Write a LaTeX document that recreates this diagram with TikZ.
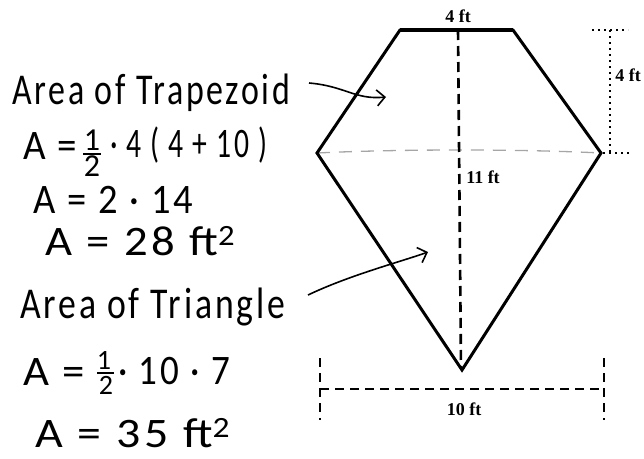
\documentclass[tikz,border=0pt]{standalone}
\usepackage{fontspec}
\usepackage{graphicx}
\setmainfont{Carlito}
\newfontfamily\hand[LetterSpace=8]{Carlito}
\newfontfamily\dimfont{Liberation Serif}
\usetikzlibrary{arrows.meta}
\newsavebox\hwbox
\newcommand\hwfit[2]{\sbox\hwbox{#2}\scalebox{\fpeval{#1/(\the\wd\hwbox)}}[1]{\usebox\hwbox}}
\begin{document}
\begin{tikzpicture}[x=1pt,y=-1pt,
  outline/.style={line width=3pt, line join=miter, line cap=round},
  heightline/.style={line width=2.6pt, dash pattern=on 10pt off 6pt},
  dimdash/.style={line width=2.4pt, dash pattern=on 9pt off 6pt},
  dimdot/.style={line width=2pt, dash pattern=on 2pt off 4pt},
  handdash/.style={gray!70, line width=1.3pt, dash pattern=on 13pt off 9pt},
  dimlabel/.style={font=\dimfont\bfseries\fontsize{18}{18}\selectfont, inner sep=1pt},
  hw/.style={anchor=base west, inner sep=0pt, font=\hand\fontsize{42}{42}\selectfont},
  hwtitle/.style={anchor=base west, inner sep=0pt, font=\hand\fontsize{44}{44}\selectfont},
  fracbig/.style={anchor=base, inner sep=0pt, font=\hand\fontsize{32}{32}\selectfont},
  fracsmall/.style={anchor=base, inner sep=0pt, font=\hand\fontsize{28}{28}\selectfont},
  fracbar/.style={line width=2pt},
  handarrow/.style={line width=1.6pt, -{Straight Barb[length=8pt,width=16pt,line width=1.6pt]}}
]
\useasboundingbox (0,0) rectangle (644,458);
% kite vertices
\coordinate (tl) at (400,30);
\coordinate (tr) at (513,30);
\coordinate (rv) at (601,153);
\coordinate (bv) at (462,370);
\coordinate (lv) at (317,153);
\coordinate (htop) at (458,30);
\coordinate (hbot) at (461,368);
% hand-drawn dashed diagonal
\draw[handdash] (lv) .. controls (400,149) and (520,149) .. (rv);
% outline
\draw[outline] (lv) -- (tl) -- (tr) -- (rv) -- (bv) -- cycle;
\draw[line width=4.5pt] (tl) -- (tr);
% height line
\draw[heightline] (htop) -- (hbot);
% right dimension (4 ft)
\coordinate (rt1) at (592,30);
\coordinate (rt2) at (628,30);
\coordinate (rb1) at (603,153);
\coordinate (rb2) at (632,153);
\coordinate (rvt) at (610,30);
\coordinate (rvb) at (610,153);
\draw[dimdot] (rt1) -- (rt2);
\draw[dimdot] (rb1) -- (rb2);
\draw[dimdot] (rvt) -- (rvb);
% bottom dimension (10 ft)
\coordinate (bl1) at (320,358);
\coordinate (bl2) at (320,420);
\coordinate (br1) at (604,358);
\coordinate (br2) at (604,420);
\coordinate (bh1) at (320,389);
\coordinate (bh2) at (604,389);
\draw[dimdash] (bl1) -- (bl2);
\draw[dimdash] (br1) -- (br2);
\draw[dimdash] (bh1) -- (bh2);
% labels
\node[dimlabel] (ltop) at (458,16) {4 ft};
\node[dimlabel] (lright) at (628,75) {4 ft};
\node[dimlabel] (lmid) at (483,177) {11 ft};
\node[dimlabel] (lbot) at (464,409) {10 ft};
% handwriting: trapezoid
\node[hwtitle] (t1) at (12,104) {\hwfit{278}{Area of Trapezoid}};
\node[hw] (e1a) at (23,159) {\hwfit{54}{A =}};
\node[fracbig] (e1n) at (92,150) {1};
\coordinate (e1bl) at (83,154);
\coordinate (e1br) at (101,154);
\draw[fracbar] (e1bl) -- (e1br);
\node[fracbig] (e1d) at (92,176) {2};
\node[hw] (e1b) at (110,157) {\hwfit{157}{· 4 ( 4 + 10 )}};
\node[hw] (e2) at (33,213) {\hwfit{160}{A = 2 · 14}};
\node[hw] (e3) at (45,255) {\hwfit{190}{A = 28 ft\textsuperscript{2}}};
% handwriting: triangle
\node[hwtitle] (t2) at (20,318) {\hwfit{265}{Area of Triangle}};
\node[hw] (e4a) at (23,385) {\hwfit{62}{A =}};
\node[fracsmall] (e4n) at (104,369) {1};
\coordinate (e4bl) at (97,373);
\coordinate (e4br) at (114,373);
\draw[fracbar] (e4bl) -- (e4br);
\node[fracsmall] (e4d) at (106,394) {2};
\node[hw] (e4b) at (118,384) {\hwfit{112}{· 10 · 7}};
\node[hw] (e5) at (35,447) {\hwfit{195}{A = 35 ft\textsuperscript{2}}};
% arrows
\coordinate (a1s) at (309,83);
\coordinate (a1e) at (386,97);
\coordinate (a2s) at (308,295);
\coordinate (a2e) at (428,252);
\draw[handarrow] (a1s) .. controls (345,86) and (355,100) .. (a1e);
\draw[handarrow] (a2s) .. controls (350,275) and (400,262) .. (a2e);
\end{tikzpicture}
\end{document}
